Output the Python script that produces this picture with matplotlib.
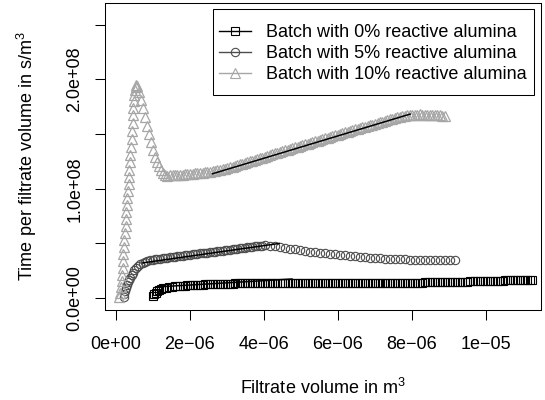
import matplotlib
matplotlib.use("Agg")
import numpy as np
import matplotlib.pyplot as plt
from matplotlib.lines import Line2D
from matplotlib.patches import Rectangle

plt.rcParams['font.family'] = ['Liberation Sans', 'DejaVu Sans']
plt.rcParams['mathtext.fontset'] = 'custom'
plt.rcParams['mathtext.rm'] = 'Liberation Sans'
plt.rcParams['mathtext.default'] = 'regular'

# ---------------- data (volume in 1e-6 m^3, time/volume in 1e8 s/m^3) -------------
vol_0 = [1.00, 1.03, 1.07, 1.11, 1.16, 1.22, 1.27, 1.35, 1.43, 1.51,
         1.59, 1.66, 1.73, 1.80, 1.86, 1.93, 2.00, 2.07, 2.14, 2.20,
         2.27, 2.34, 2.41, 2.47, 2.54, 2.61, 2.68, 2.74, 2.81, 2.88,
         2.95, 3.01, 3.08, 3.15, 3.22, 3.28, 3.35, 3.42, 3.49, 3.55,
         3.62, 3.69, 3.76, 3.82, 3.89, 3.96, 4.03, 4.09, 4.16,
         4.23, 4.30, 4.36, 4.43, 4.50, 4.57, 4.64, 4.70, 4.77, 4.84,
         4.91, 4.97, 5.04, 5.11, 5.18, 5.24, 5.31, 5.38, 5.45, 5.51,
         5.58, 5.65, 5.72, 5.78, 5.85, 5.92, 5.99, 6.05, 6.12, 6.19,
         6.26, 6.32, 6.39, 6.46, 6.53, 6.59, 6.66, 6.73, 6.80, 6.86,
         6.93, 7.00, 7.07, 7.14, 7.20, 7.27, 7.34, 7.41, 7.47, 7.54,
         7.61, 7.68,
         7.74, 7.81, 7.88, 7.95, 8.01, 8.08, 8.15, 8.22, 8.28, 8.35,
         8.42, 8.49, 8.55, 8.62, 8.69, 8.76, 8.82, 8.89, 8.96, 9.03,
         9.09, 9.16, 9.23, 9.30, 9.36, 9.43, 9.50, 9.57, 9.64, 9.70,
         9.77, 9.84, 9.91, 9.97, 10.04, 10.11, 10.18, 10.24, 10.31, 10.38,
         10.45, 10.51, 10.58, 10.65, 10.72, 10.78, 10.85, 10.92, 10.99, 11.05,
         11.12, 11.19, 11.26]
tpv_0 = [0.014, 0.037, 0.050, 0.064, 0.073, 0.082, 0.087, 0.092, 0.096, 0.101,
         0.107, 0.109, 0.111, 0.112, 0.114, 0.115, 0.116, 0.118, 0.119, 0.120,
         0.122, 0.123, 0.124, 0.125, 0.125, 0.126, 0.127, 0.128, 0.129, 0.130,
         0.131, 0.131, 0.132, 0.132, 0.133, 0.133, 0.134, 0.134, 0.135, 0.135,
         0.136, 0.136, 0.136, 0.136, 0.136, 0.137, 0.137, 0.137, 0.137,
         0.137, 0.138, 0.137, 0.136, 0.137, 0.138, 0.137, 0.137, 0.136, 0.137,
         0.137, 0.138, 0.137, 0.137, 0.136, 0.137, 0.137, 0.138, 0.137, 0.137,
         0.137, 0.136, 0.137, 0.137, 0.138, 0.137, 0.138, 0.137, 0.136, 0.137,
         0.137, 0.138, 0.137, 0.137, 0.136, 0.137, 0.137, 0.138, 0.137, 0.137,
         0.137, 0.136, 0.137, 0.137, 0.138, 0.137, 0.137, 0.138, 0.137, 0.136,
         0.137, 0.137,
         0.137, 0.138, 0.138, 0.139, 0.139, 0.140, 0.140, 0.141, 0.141, 0.142,
         0.142, 0.143, 0.143, 0.144, 0.144, 0.145, 0.145, 0.146, 0.146, 0.147,
         0.147, 0.148, 0.148, 0.149, 0.149, 0.150, 0.150, 0.151, 0.151, 0.152,
         0.153, 0.154, 0.154, 0.155, 0.156, 0.157, 0.157, 0.158, 0.158, 0.159,
         0.160, 0.161, 0.161, 0.162, 0.162, 0.163, 0.164, 0.165, 0.165, 0.166,
         0.167, 0.168, 0.169]

vol_5 = [0.22, 0.23, 0.24, 0.27, 0.30, 0.32, 0.35, 0.38, 0.42, 0.46,
         0.50, 0.54, 0.60, 0.65, 0.72, 0.78, 0.85, 0.92,
         0.99, 1.05, 1.12, 1.19, 1.26, 1.32, 1.39, 1.46, 1.53, 1.59,
         1.66, 1.73, 1.80, 1.86, 1.93, 2.00, 2.07, 2.14, 2.20, 2.27,
         2.34, 2.41, 2.47, 2.54, 2.61, 2.68, 2.74, 2.81, 2.88, 2.95,
         3.01, 3.08, 3.15, 3.22, 3.28, 3.35, 3.42, 3.49, 3.55, 3.62,
         3.69, 3.76, 3.82, 3.89, 3.96, 4.03,
         4.16, 4.30, 4.43, 4.57, 4.70, 4.84, 4.97, 5.11, 5.24, 5.38,
         5.51, 5.65, 5.78, 5.92, 6.05, 6.19, 6.32, 6.46, 6.59, 6.73,
         6.86, 7.00, 7.14, 7.27, 7.41, 7.54, 7.68, 7.81, 7.95, 8.08,
         8.22, 8.35, 8.49, 8.62, 8.76, 8.89, 9.03, 9.16]
tpv_5 = [0.009, 0.037, 0.064, 0.092, 0.119, 0.142, 0.165, 0.183, 0.206, 0.229,
         0.252, 0.270, 0.293, 0.311, 0.321, 0.330, 0.339, 0.348,
         0.350, 0.353, 0.357, 0.360, 0.362, 0.365, 0.369, 0.372, 0.375, 0.377,
         0.380, 0.384, 0.386, 0.389, 0.392, 0.396, 0.398, 0.401, 0.404, 0.408,
         0.410, 0.413, 0.416, 0.419, 0.422, 0.425, 0.428, 0.431, 0.434, 0.437,
         0.440, 0.443, 0.446, 0.449, 0.452, 0.455, 0.458, 0.461, 0.464, 0.467,
         0.470, 0.473, 0.476, 0.478, 0.480, 0.481,
         0.478, 0.472, 0.464, 0.458, 0.451, 0.444, 0.437, 0.430, 0.425, 0.419,
         0.414, 0.408, 0.403, 0.398, 0.394, 0.389, 0.385, 0.381, 0.377, 0.374,
         0.370, 0.366, 0.364, 0.361, 0.358, 0.356, 0.354, 0.353, 0.352, 0.351,
         0.350, 0.350, 0.350, 0.350, 0.350, 0.351, 0.351, 0.352]

vol_10 = [0.08, 0.11, 0.14, 0.15, 0.16, 0.18, 0.19, 0.20, 0.22, 0.23,
          0.24, 0.26, 0.27, 0.28, 0.30, 0.31, 0.32, 0.34, 0.35, 0.36,
          0.38, 0.39, 0.41, 0.42, 0.43, 0.45, 0.46, 0.47, 0.49, 0.50,
          0.51, 0.53, 0.54, 0.57,
          0.62, 0.68, 0.73, 0.78, 0.84, 0.89, 0.95, 1.00, 1.05, 1.11,
          1.16, 1.22, 1.27, 1.32, 1.38,
          1.46, 1.53, 1.59, 1.66, 1.73, 1.80, 1.86, 1.93, 2.00, 2.07,
          2.14, 2.20, 2.27, 2.34, 2.41, 2.47, 2.54, 2.61, 2.68, 2.74,
          2.81, 2.88, 2.95, 3.01, 3.08, 3.15, 3.22, 3.28, 3.35, 3.42,
          3.49, 3.55, 3.62, 3.69, 3.76, 3.82, 3.89, 3.96, 4.03, 4.09,
          4.16, 4.23, 4.30, 4.36, 4.43, 4.50, 4.57, 4.64, 4.70, 4.77,
          4.84, 4.91, 4.97, 5.04, 5.11, 5.18, 5.24, 5.31, 5.38, 5.45,
          5.51, 5.58, 5.65, 5.72, 5.78, 5.85, 5.92, 5.99, 6.05, 6.12,
          6.19, 6.26, 6.32, 6.39, 6.46, 6.53, 6.59, 6.66, 6.73, 6.80,
          6.86, 6.93, 7.00, 7.07, 7.14, 7.20, 7.27, 7.34, 7.41, 7.47,
          7.54, 7.61, 7.68, 7.74, 7.81, 7.88, 7.95, 8.01, 8.08, 8.15,
          8.22, 8.28, 8.35, 8.42, 8.49, 8.55, 8.62, 8.69, 8.76, 8.82,
          8.89]
tpv_10 = [0.009, 0.046, 0.101, 0.156, 0.211, 0.275, 0.339, 0.403, 0.467, 0.531,
          0.595, 0.659, 0.723, 0.788, 0.852, 0.916, 0.980, 1.044, 1.108, 1.172,
          1.245, 1.310, 1.383, 1.456, 1.529, 1.603, 1.676, 1.740, 1.804, 1.859,
          1.905, 1.932, 1.946, 1.941,
          1.886, 1.813, 1.740, 1.658, 1.575, 1.502, 1.429, 1.355, 1.291, 1.245,
          1.209, 1.172, 1.145, 1.126, 1.117,
          1.122, 1.123, 1.124, 1.125, 1.126, 1.129, 1.131, 1.134, 1.136, 1.138,
          1.140, 1.143, 1.145, 1.147, 1.149, 1.152, 1.154, 1.159, 1.163, 1.168,
          1.172, 1.178, 1.184, 1.189, 1.195, 1.202, 1.209, 1.216, 1.223, 1.230,
          1.236, 1.243, 1.250, 1.257, 1.264, 1.270, 1.277, 1.285, 1.293, 1.302,
          1.310, 1.317, 1.323, 1.330, 1.337, 1.344, 1.351, 1.357, 1.364, 1.371,
          1.378, 1.385, 1.392, 1.399, 1.405, 1.412, 1.419, 1.426, 1.433, 1.440,
          1.447, 1.454, 1.460, 1.467, 1.474, 1.481, 1.488, 1.495, 1.502, 1.509,
          1.515, 1.522, 1.529, 1.536, 1.543, 1.550, 1.557, 1.563, 1.568, 1.574,
          1.580, 1.587, 1.594, 1.600, 1.607, 1.614, 1.621, 1.628, 1.635, 1.641,
          1.646, 1.652, 1.658, 1.663, 1.667, 1.672, 1.676, 1.677, 1.678, 1.679,
          1.680, 1.679, 1.678, 1.677, 1.676, 1.675, 1.673, 1.672, 1.671, 1.669,
          1.667]

# linear fits (end points)
fit_vol_0 = [1.05, 4.78]
fit_tpv_0 = [0.100, 0.174]
fit_vol_5 = [0.70, 4.43]
fit_tpv_5 = [0.32, 0.50]
fit_vol_10 = [2.59, 7.97]
fit_tpv_10 = [1.135, 1.685]

labels = ["Batch with 0% reactive alumina",
          "Batch with 5% reactive alumina",
          "Batch with 10% reactive alumina"]
xtick_vals = [0, 2e-6, 4e-6, 6e-6, 8e-6, 1e-5]
xtick_labels = ["0e+00", "2e\u221206", "4e\u221206", "6e\u221206", "8e\u221206", "1e\u221205"]
ytick_vals = [0, 0.5e8, 1.0e8, 1.5e8, 2.0e8, 2.5e8]
ytick_labels = ["0.0e+00", "", "1.0e+08", "", "2.0e+08", ""]

XS, YS = 1e-6, 1e8
c0, c5, c10 = "#000000", "#4d4d4d", "#a6a6a6"

# ---------------- figure -------------
W, H = 545, 400
fig = plt.figure(figsize=(W / 100, H / 100), dpi=100)
L, R, T, B = 105, 541, 3, 310
ax = fig.add_axes([L / W, 1 - B / H, (R - L) / W, (B - T) / H])

ax.plot(np.array(vol_0) * XS, np.array(tpv_0) * YS, ls='none', marker='s', ms=5.6,
        mfc='none', mec=c0, mew=0.8)
ax.plot(np.array(vol_5) * XS, np.array(tpv_5) * YS, ls='none', marker='o', ms=6.0,
        mfc='none', mec=c5, mew=0.8)
ax.plot(np.array(vol_10) * XS, np.array(tpv_10) * YS, ls='none', marker='^', ms=6.5,
        mfc='none', mec=c10, mew=0.9)

for fv, ft in [(fit_vol_0, fit_tpv_0), (fit_vol_5, fit_tpv_5), (fit_vol_10, fit_tpv_10)]:
    ax.plot(np.array(fv) * XS, np.array(ft) * YS, color='k', lw=1.1, solid_capstyle='butt')

ax.set_xlim(-0.297e-6, 11.49e-6)
ax.set_ylim(-0.110e8, 2.70e8)
ax.set_xticks(xtick_vals)
ax.set_xticklabels(xtick_labels)
ax.set_yticks(ytick_vals)
ax.set_yticklabels(ytick_labels, rotation=90, va='center')
ax.tick_params(direction='out', length=7.5, width=0.75, labelsize=13, color='k')
ax.tick_params(axis='x', pad=11.5)
ax.tick_params(axis='y', pad=8)
for s in ax.spines.values():
    s.set_linewidth(0.75)

ax.set_xlabel("Filtrate volume in m$^3$", fontsize=13)
ax.xaxis.set_label_coords(0.5, (B - 394) / (B - T))
ax.xaxis.label.set_va('baseline')
ax.set_ylabel("Time per filtrate volume in s/m$^3$", fontsize=13)
ax.yaxis.set_label_coords((33 - L) / (R - L), 0.5)
ax.yaxis.label.set_va('baseline')

handles = [Line2D([], [], color=c0, marker='s', ms=6, mfc='none', lw=1, mew=0.8),
           Line2D([], [], color=c5, marker='o', ms=6, mfc='none', lw=1, mew=0.8),
           Line2D([], [], color=c10, marker='^', ms=6.5, mfc='none', lw=1, mew=0.8)]
ax.legend(handles, labels, loc='center', bbox_to_anchor=(372.5 / W, 1 - 53.5 / H),
          bbox_transform=fig.transFigure, frameon=False, fontsize=13,
          handlelength=32 / 18, handletextpad=15 / 18, borderpad=0,
          labelspacing=0.23, borderaxespad=0)
fig.add_artist(Rectangle((213 / W, 1 - 95 / H), (534 - 213) / W, (95 - 9) / H,
                         transform=fig.transFigure, fill=False, ec='k', lw=0.75))

fig.savefig("out.png", dpi=100)
